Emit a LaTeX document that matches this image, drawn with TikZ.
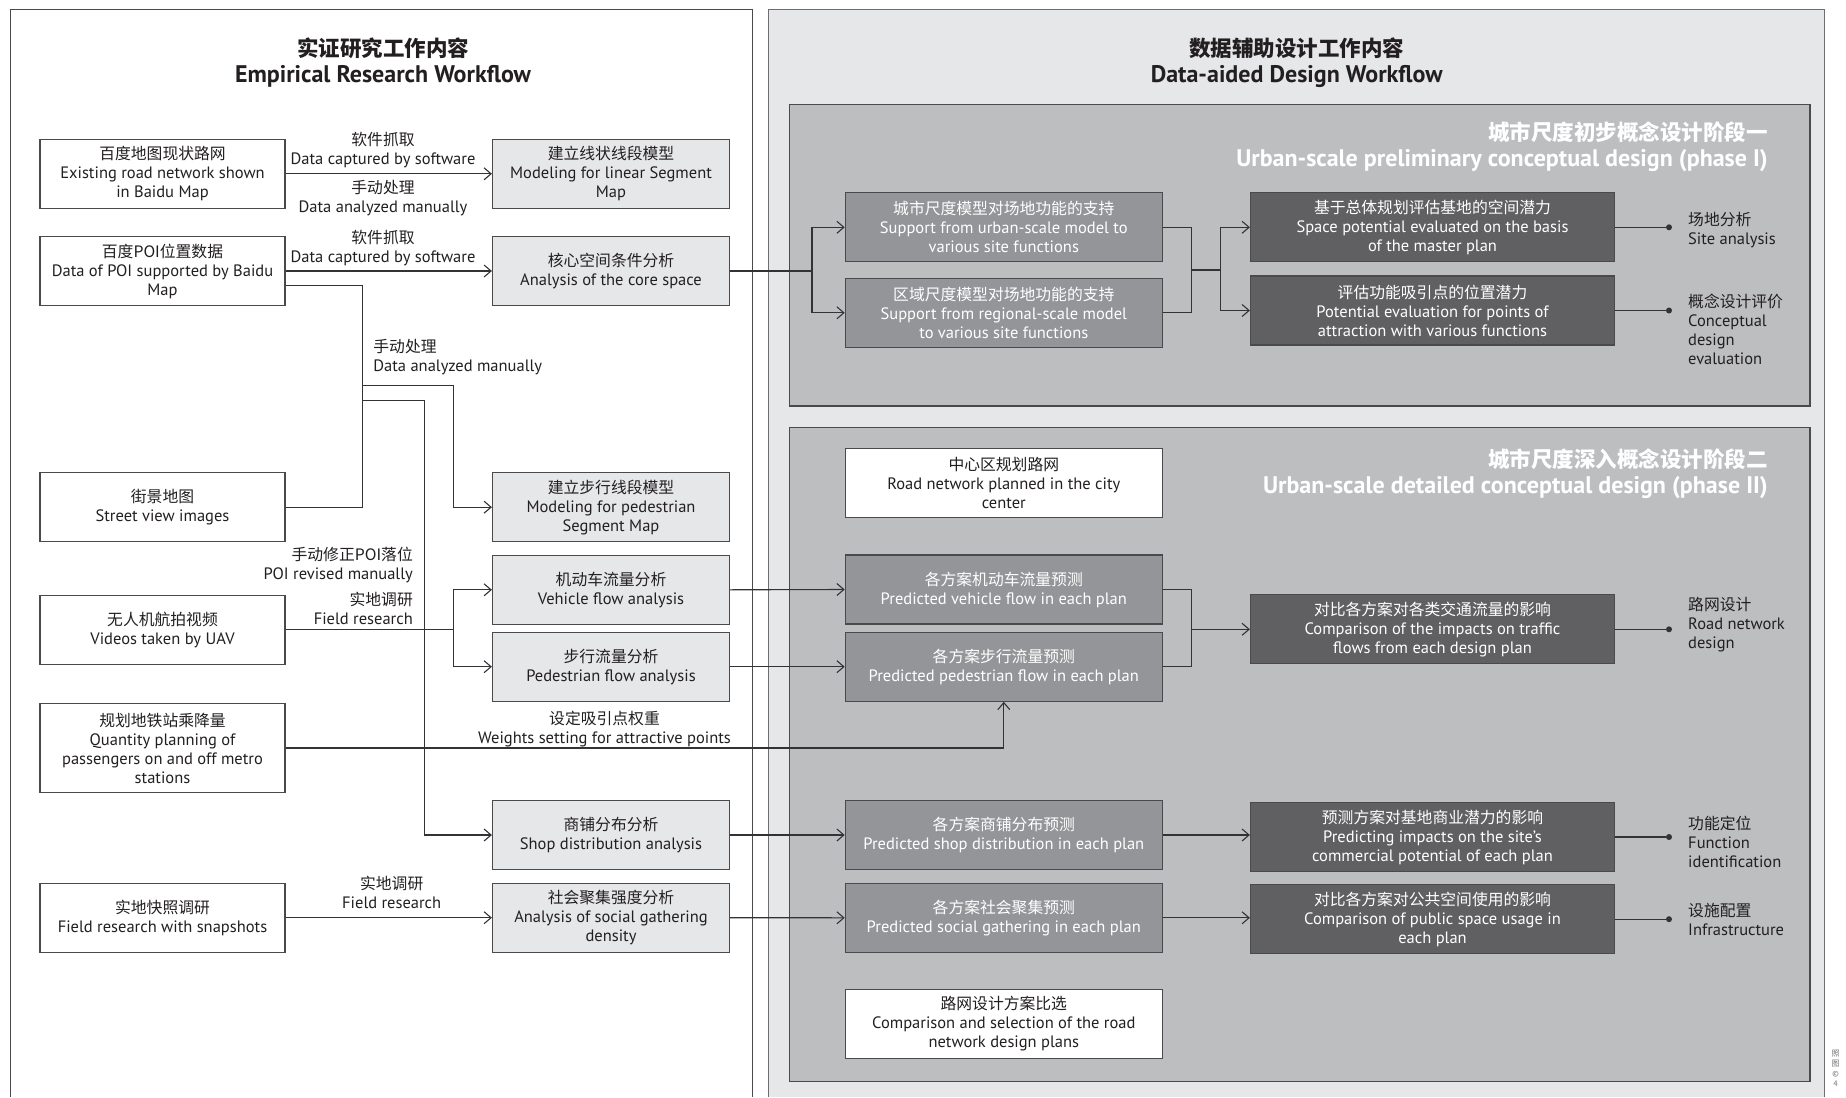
\documentclass[tikz,border=0pt]{standalone}
\usepackage{fontspec}
\setmainfont{PT Sans}
\newfontfamily\cjk{Noto Sans CJK SC}
\usetikzlibrary{arrows.meta}
\definecolor{panelR}{HTML}{E6E7E8}
\definecolor{phase}{HTML}{BCBEC0}
\definecolor{boxM}{HTML}{E6E7E8}
\definecolor{boxA}{HTML}{939598}
\definecolor{boxB}{HTML}{606062}
\definecolor{bline}{HTML}{4A4A4C}
\definecolor{cline}{HTML}{333335}
\definecolor{txt}{HTML}{231F20}
\newcommand\bsz{\fontsize{16.5}{19}\selectfont}
\newcommand\zh{\cjk\fontsize{15.8}{19}\selectfont}
\newcommand\tsz{\fontsize{24}{26}\selectfont}
\begin{document}
\begin{tikzpicture}[x=1pt,y=-1pt,
  box/.style={draw=bline, line width=1.2pt, minimum height=69pt, inner sep=0pt, align=center, font=\bsz, text=txt},
  wb/.style={box, fill=white, minimum width=245pt},
  mb/.style={box, fill=boxM, minimum width=237pt},
  ab/.style={box, fill=boxA, text=white, minimum width=317pt},
  aw/.style={box, fill=white, minimum width=317pt},
  bb/.style={box, fill=boxB, text=white, minimum width=364pt},
  lab/.style={font=\bsz, text=txt, align=center, inner sep=0pt},
  ttl/.style={font=\tsz\bfseries, text=txt, align=center, inner sep=0pt},
  ptl/.style={font=\tsz\bfseries, text=white, align=right, inner sep=0pt},
  con/.style={draw=cline, line width=1.1pt},
  arr/.style={con, -{Straight Barb[length=7pt,width=12pt]}},
  dot/.style={circle, fill=cline, inner sep=0pt, minimum size=6pt},
  outlab/.style={font=\bsz, text=txt, align=left, inner sep=0pt, anchor=west}
]
\useasboundingbox (0,0) rectangle (1846,1097);
\fill[white] (0,0) rectangle (1846,1097);
% panels
\draw[draw=bline, line width=1.2pt] (10.7,1097) -- (10.7,9.3) -- (752.8,9.3) -- (752.8,1097);
\fill[panelR] (768.3,9.3) rectangle (1824.4,1097);
\draw[draw=bline!80, line width=1pt] (768.3,1097) -- (768.3,9.3) -- (1824.4,9.3) -- (1824.4,1097);
\draw[draw=bline, line width=1.2pt, fill=phase] (789.8,104.3) rectangle (1809.9,406);
\draw[draw=bline, line width=1.2pt, fill=phase] (789.8,427.3) rectangle (1809.9,1081.7);

% titles
\node[ttl] (t1) at (383,62.5) {{\cjk\fontsize{21.5}{26}\selectfont 实证研究工作内容}\\Empirical Research Workflow};
\node[ttl] (t2) at (1296.7,62.5) {{\cjk\fontsize{21.5}{26}\selectfont 数据辅助设计工作内容}\\Data-aided Design Workflow};
\node[ptl, anchor=east] (p1) at (1768,147) {{\cjk\fontsize{21.5}{30}\selectfont 城市尺度初步概念设计阶段一}\\Urban-scale preliminary conceptual design (phase I)};
\node[ptl, anchor=east] (p2) at (1768,474) {{\cjk\fontsize{21.5}{29}\selectfont 城市尺度深入概念设计阶段二}\\Urban-scale detailed conceptual design (phase II)};

% left column
\node[wb] (L1) at (162.5,173.8) {{\zh 百度地图现状路网}\\Existing road network shown\\in Baidu Map};
\node[wb] (L2) at (162.5,271) {{\zh 百度POI位置数据}\\Data of POI supported by Baidu\\Map};
\node[wb] (L3) at (162.5,507.2) {{\zh 街景地图}\\Street view images};
\node[wb] (L4) at (162.5,629.8) {{\zh 无人机航拍视频}\\Videos taken by UAV};
\node[wb, minimum height=89.4pt] (L5) at (162.5,748) {{\zh 规划地铁站乘降量}\\Quantity planning of\\passengers on and off metro\\stations};
\node[wb] (L6) at (162.5,917.7) {{\zh 实地快照调研}\\Field research with snapshots};

% middle column
\node[mb] (M1) at (611,173.8) {{\zh 建立线状线段模型}\\Modeling for linear Segment\\Map};
\node[mb] (M2) at (611,271) {{\zh 核心空间条件分析}\\Analysis of the core space};
\node[mb] (M3) at (611,507.2) {{\zh 建立步行线段模型}\\Modeling for pedestrian\\Segment Map};
\node[mb] (M4) at (611,589.8) {{\zh 机动车流量分析}\\Vehicle flow analysis};
\node[mb] (M5) at (611,666.7) {{\zh 步行流量分析}\\Pedestrian flow analysis};
\node[mb] (M6) at (611,835) {{\zh 商铺分布分析}\\Shop distribution analysis};
\node[mb] (M7) at (611,917.7) {{\zh 社会聚集强度分析}\\Analysis of social gathering\\density};

% column A
\node[ab] (A1) at (1003.8,227.3) {{\zh 城市尺度模型对场地功能的支持}\\Support from urban-scale model to\\various site functions};
\node[ab] (A2) at (1003.8,312.8) {{\zh 区域尺度模型对场地功能的支持}\\Support from regional-scale model\\to various site functions};
\node[aw] (A3) at (1003.8,482.8) {{\zh 中心区规划路网}\\Road network planned in the city\\center};
\node[ab] (A4) at (1003.8,589.5) {{\zh 各方案机动车流量预测}\\Predicted vehicle flow in each plan};
\node[ab] (A5) at (1003.8,666.7) {{\zh 各方案步行流量预测}\\Predicted pedestrian flow in each plan};
\node[ab] (A6) at (1003.8,835) {{\zh 各方案商铺分布预测}\\Predicted shop distribution in each plan};
\node[ab] (A7) at (1003.8,917.8) {{\zh 各方案社会聚集预测}\\Predicted social gathering in each plan};
\node[aw] (A8) at (1003.8,1023.8) {{\zh 路网设计方案比选}\\Comparison and selection of the road\\network design plans};

% column B
\node[bb] (B1) at (1432.5,227.3) {{\zh 基于总体规划评估基地的空间潜力}\\Space potential evaluated on the basis\\of the master plan};
\node[bb] (B2) at (1432.5,310.5) {{\zh 评估功能吸引点的位置潜力}\\Potential evaluation for points of\\attraction with various functions};
\node[bb] (B3) at (1432.5,629.3) {{\zh 对比各方案对各类交通流量的影响}\\Comparison of the impacts on traffic\\flows from each design plan};
\node[bb] (B4) at (1432.5,837) {{\zh 预测方案对基地商业潜力的影响}\\Predicting impacts on the site’s\\commercial potential of each plan};
\node[bb] (B5) at (1432.5,919.2) {{\zh 对比各方案对公共空间使用的影响}\\Comparison of public space usage in\\each plan};

% outcomes
\node[dot] (d1) at (1669,227.3) {};
\node[dot] (d2) at (1669,310.5) {};
\node[dot] (d3) at (1669,629.3) {};
\node[dot] (d4) at (1669,837) {};
\node[dot] (d5) at (1669,919.2) {};
\node[outlab] (o1) at (1688,230) {{\zh 场地分析}\\Site analysis};
\node[outlab] (o2) at (1688,329) {{\zh 概念设计评价}\\Conceptual\\design\\evaluation};
\node[outlab] (o3) at (1688,625) {{\zh 路网设计}\\Road network\\design};
\node[outlab] (o4) at (1688,842) {{\zh 功能定位}\\Function\\identification};
\node[outlab] (o5) at (1688,919.5) {{\zh 设施配置}\\Infrastructure};
\foreach \b/\d in {B1/d1,B2/d2,B3/d3,B4/d4,B5/d5} \draw[con] (\b.east) -- (\d);

% connector labels
\node[lab] (c1) at (383,150.5) {{\zh 软件抓取}\\Data captured by software};
\node[lab] (c2) at (383,198.4) {{\zh 手动处理}\\Data analyzed manually};
\node[lab] (c3) at (383,248.2) {{\zh 软件抓取}\\Data captured by software};
\node[lab, align=left, anchor=west] (c4) at (373.2,357.2) {{\zh 手动处理}\\Data analyzed manually};
\node[lab, align=right, anchor=east] (c5) at (413,564.7) {{\zh 手动修正POI落位}\\POI revised manually};
\node[lab, align=right, anchor=east] (c6) at (413,608.2) {{\zh 实地调研}\\Field research};
\node[lab] (c7) at (604.5,729.5) {{\zh 设定吸引点权重}\\Weights setting for attractive points};
\node[lab] (c8) at (391.7,892.5) {{\zh 实地调研}\\Field research};

% credit
\node[font=\fontsize{8}{10}\selectfont, text=black!55, align=center, inner sep=0pt] (cr) at (1835.5,1068) {{\cjk 照}\\{\cjk 图}\\©\\4};

% connectors: left panel
\draw[arr] (L1.east) -- (M1.west);
\draw[arr] (L2.east) -- (M2.west);
\coordinate (j1) at (362.6,285.7);
\draw[con] (L2.east |- j1) -- (j1) -- (j1 |- L3.east) -- (L3.east);
\coordinate (j2) at (362.6,385.7);
\coordinate (j3) at (453.2,385.7);
\draw[arr] (j2) -- (j3) |- (M3.west);
\coordinate (j4) at (362.6,400.7);
\coordinate (j5) at (424.1,400.7);
\draw[arr] (j4) -- (j5) |- (M6.west);
\coordinate (k1) at (453.2,629.8);
\draw[arr] (L4.east) -- (k1) |- (M4.west);
\draw[arr] (k1) |- (M5.west);
\draw[arr] (L5.east) -| (A5.south);
\draw[arr] (L6.east) -- (M7.west);

% connectors: to right panel
\coordinate (m1) at (812,271);
\draw[con] (M2.east) -- (m1);
\draw[arr] (m1) |- (A1.west);
\draw[arr] (m1) |- (A2.west);
\coordinate (n1) at (1191.4,270);
\coordinate (n2) at (1220.5,270);
\draw[con] (A1.east) -| (n1);
\draw[con] (A2.east) -| (n1);
\draw[con] (n1) -- (n2);
\draw[arr] (n2) |- (B1.west);
\draw[arr] (n2) |- (B2.west);
\draw[arr] (M4.east) -- (A4.west);
\draw[arr] (M5.east) -- (A5.west);
\coordinate (q1) at (1191.4,629.3);
\draw[con] (A4.east) -| (q1);
\draw[con] (A5.east) -| (q1);
\draw[arr] (q1) -- (B3.west);
\draw[arr] (M6.east) -- (A6.west);
\draw[arr] (M7.east) -- (A7.west);
\draw[arr] (A6.east) -- (A6.east -| B4.west);
\draw[arr] (A7.east) -- (A7.east -| B5.west);
\end{tikzpicture}
\end{document}
